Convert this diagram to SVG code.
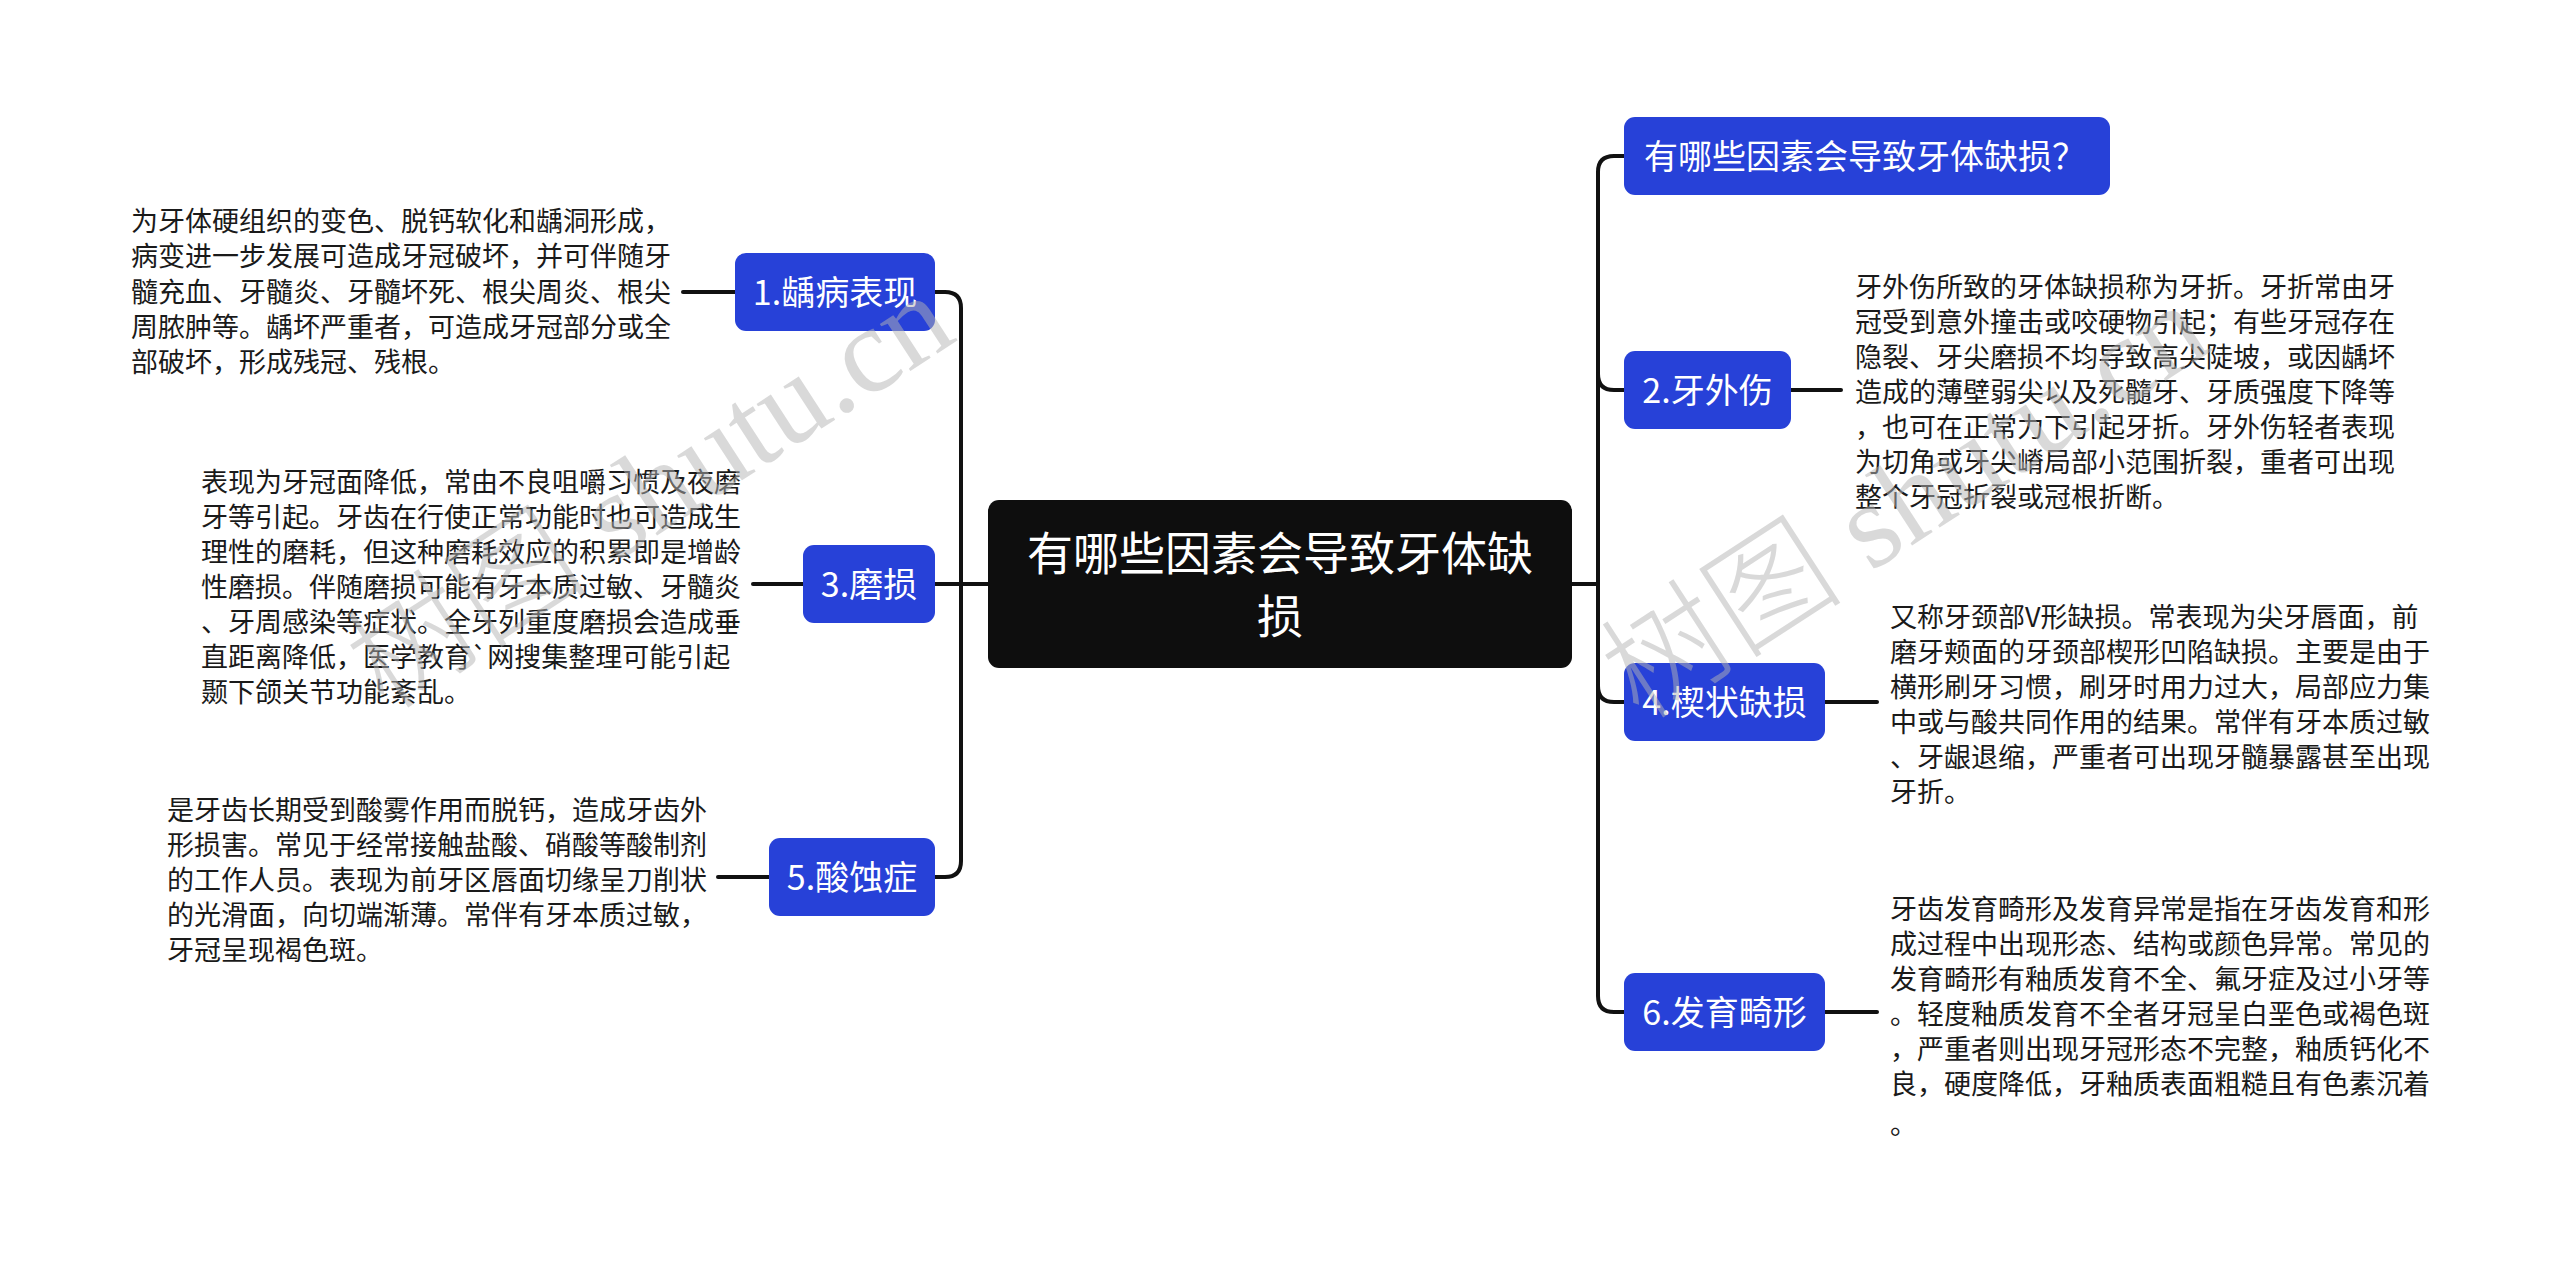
<svg xmlns="http://www.w3.org/2000/svg" width="2560" height="1263" viewBox="0 0 2560 1263">
<style>
.bg{fill:#ffffff}
.root{fill:#0e0e0e}
.topic{fill:#2741d8}
.rootTxt{font-family:"Noto Sans CJK SC","Noto Sans",sans-serif;font-size:46px;fill:#ffffff;text-anchor:middle}
.topicTxt{font-family:"Noto Sans CJK SC","Noto Sans",sans-serif;font-size:34px;fill:#ffffff;text-anchor:middle}
.leaf{font-family:"Noto Sans CJK SC","Noto Sans",sans-serif;font-size:27px;fill:#1a1a1a}
.conn{fill:none;stroke:#111111;stroke-width:4;stroke-linecap:round;stroke-linejoin:round}
.wm{font-family:"Liberation Serif","Noto Sans CJK SC",serif;font-size:122px;font-weight:300;fill:#b4b4b4;fill-opacity:0.5}
</style>
<rect class="bg" x="0" y="0" width="2560" height="1263"/>

<g id="connectors">
  <path class="conn" d="M935,292 H945 Q961,292 961,308 V861 Q961,877 945,877 H935"/>
  <path class="conn" d="M935,584 H988"/>
  <path class="conn" d="M1572,584 H1598"/>
  <path class="conn" d="M1624,156 H1614 Q1598,156 1598,172 V996 Q1598,1012 1614,1012 H1624"/>
  <path class="conn" d="M1598,374 Q1598,390 1614,390 H1624"/>
  <path class="conn" d="M1598,686 Q1598,702 1614,702 H1624"/>
  <path class="conn" d="M683,292 H735"/>
  <path class="conn" d="M753,584 H803"/>
  <path class="conn" d="M718,877 H769"/>
  <path class="conn" d="M1791,390 H1841"/>
  <path class="conn" d="M1825,702 H1877"/>
  <path class="conn" d="M1825,1012 H1877"/>
</g>

<g id="root">
  <rect class="root" x="988" y="500" width="584" height="168" rx="11"/>
  <text class="rootTxt" x="1280" y="570">有哪些因素会导致牙体缺</text>
  <text class="rootTxt" x="1280" y="633">损</text>
</g>

<g id="node-q">
  <rect class="topic" x="1624" y="117" width="486" height="78" rx="11"/>
  <text class="topicTxt" x="1865" y="169">有哪些因素会导致牙体缺损？</text>
</g>

<g id="node-1">
  <rect class="topic" x="735" y="253" width="200" height="78" rx="11"/>
  <text class="topicTxt" x="835" y="305">1.龋病表现</text>
</g>
<g id="leaf-1">
  <text class="leaf">
    <tspan x="131" y="231">为牙体硬组织的变色、脱钙软化和龋洞形成，</tspan>
    <tspan x="131" y="266">病变进一步发展可造成牙冠破坏，并可伴随牙</tspan>
    <tspan x="131" y="302">髓充血、牙髓炎、牙髓坏死、根尖周炎、根尖</tspan>
    <tspan x="131" y="337">周脓肿等。龋坏严重者，可造成牙冠部分或全</tspan>
    <tspan x="131" y="372">部破坏，形成残冠、残根。</tspan>
  </text>
</g>

<g id="node-3">
  <rect class="topic" x="803" y="545" width="132" height="78" rx="11"/>
  <text class="topicTxt" x="869" y="597">3.磨损</text>
</g>
<g id="leaf-3">
  <text class="leaf">
    <tspan x="201" y="492">表现为牙冠面降低，常由不良咀嚼习惯及夜磨</tspan>
    <tspan x="201" y="527">牙等引起。牙齿在行使正常功能时也可造成生</tspan>
    <tspan x="201" y="562">理性的磨耗，但这种磨耗效应的积累即是增龄</tspan>
    <tspan x="201" y="597">性磨损。伴随磨损可能有牙本质过敏、牙髓炎</tspan>
    <tspan x="201" y="632">、牙周感染等症状。全牙列重度磨损会造成垂</tspan>
    <tspan x="201" y="667">直距离降低，医学教育`网搜集整理可能引起</tspan>
    <tspan x="201" y="702">颞下颌关节功能紊乱。</tspan>
  </text>
</g>

<g id="node-5">
  <rect class="topic" x="769" y="838" width="166" height="78" rx="11"/>
  <text class="topicTxt" x="852" y="890">5.酸蚀症</text>
</g>
<g id="leaf-5">
  <text class="leaf">
    <tspan x="167" y="820">是牙齿长期受到酸雾作用而脱钙，造成牙齿外</tspan>
    <tspan x="167" y="855">形损害。常见于经常接触盐酸、硝酸等酸制剂</tspan>
    <tspan x="167" y="890">的工作人员。表现为前牙区唇面切缘呈刀削状</tspan>
    <tspan x="167" y="925">的光滑面，向切端渐薄。常伴有牙本质过敏，</tspan>
    <tspan x="167" y="960">牙冠呈现褐色斑。</tspan>
  </text>
</g>

<g id="node-2">
  <rect class="topic" x="1624" y="351" width="167" height="78" rx="11"/>
  <text class="topicTxt" x="1707.5" y="403">2.牙外伤</text>
</g>
<g id="leaf-2">
  <text class="leaf">
    <tspan x="1855" y="297">牙外伤所致的牙体缺损称为牙折。牙折常由牙</tspan>
    <tspan x="1855" y="332">冠受到意外撞击或咬硬物引起；有些牙冠存在</tspan>
    <tspan x="1855" y="367">隐裂、牙尖磨损不均导致高尖陡坡，或因龋坏</tspan>
    <tspan x="1855" y="402">造成的薄壁弱尖以及死髓牙、牙质强度下降等</tspan>
    <tspan x="1855" y="437">，也可在正常力下引起牙折。牙外伤轻者表现</tspan>
    <tspan x="1855" y="472">为切角或牙尖嵴局部小范围折裂，重者可出现</tspan>
    <tspan x="1855" y="507">整个牙冠折裂或冠根折断。</tspan>
  </text>
</g>

<g id="node-4">
  <rect class="topic" x="1624" y="663" width="201" height="78" rx="11"/>
  <text class="topicTxt" x="1724.5" y="715">4.楔状缺损</text>
</g>
<g id="leaf-4">
  <text class="leaf">
    <tspan x="1890" y="627">又称牙颈部V形缺损。常表现为尖牙唇面，前</tspan>
    <tspan x="1890" y="662">磨牙颊面的牙颈部楔形凹陷缺损。主要是由于</tspan>
    <tspan x="1890" y="697">横形刷牙习惯，刷牙时用力过大，局部应力集</tspan>
    <tspan x="1890" y="732">中或与酸共同作用的结果。常伴有牙本质过敏</tspan>
    <tspan x="1890" y="767">、牙龈退缩，严重者可出现牙髓暴露甚至出现</tspan>
    <tspan x="1890" y="802">牙折。</tspan>
  </text>
</g>

<g id="node-6">
  <rect class="topic" x="1624" y="973" width="201" height="78" rx="11"/>
  <text class="topicTxt" x="1724.5" y="1025">6.发育畸形</text>
</g>
<g id="leaf-6">
  <text class="leaf">
    <tspan x="1890" y="919">牙齿发育畸形及发育异常是指在牙齿发育和形</tspan>
    <tspan x="1890" y="954">成过程中出现形态、结构或颜色异常。常见的</tspan>
    <tspan x="1890" y="989">发育畸形有釉质发育不全、氟牙症及过小牙等</tspan>
    <tspan x="1890" y="1024">。轻度釉质发育不全者牙冠呈白垩色或褐色斑</tspan>
    <tspan x="1890" y="1059">，严重者则出现牙冠形态不完整，釉质钙化不</tspan>
    <tspan x="1890" y="1094">良，硬度降低，牙釉质表面粗糙且有色素沉着</tspan>
    <tspan x="1890" y="1134">。</tspan>
  </text>
</g>

<g id="watermarks">
  <text class="wm" transform="translate(385,712) rotate(-33)">树图 shutu.cn</text>
  <text class="wm" transform="translate(1640,722) rotate(-33)">树图 shutu.cn</text>
</g>
</svg>
